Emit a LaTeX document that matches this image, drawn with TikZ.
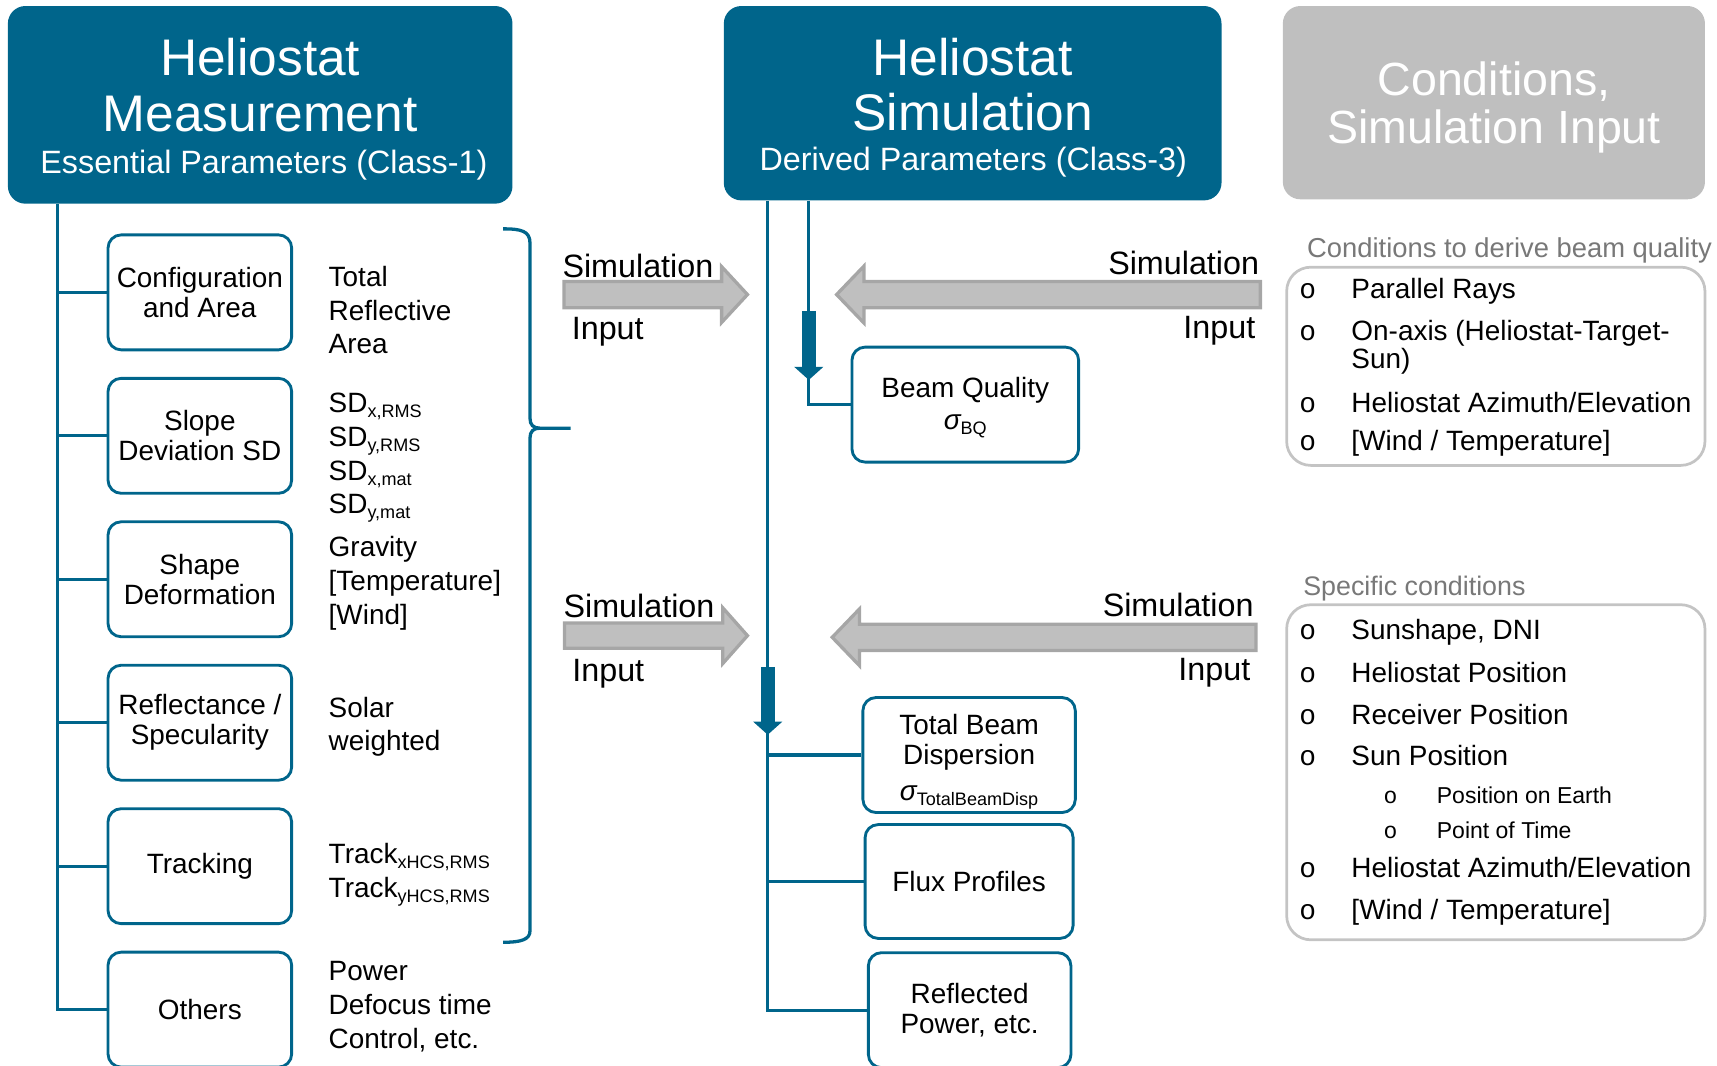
\documentclass[tikz,border=0pt]{standalone}
\usepackage{fontspec}
\setmainfont{Liberation Sans}
\newfontfamily\bulfont{Liberation Mono}
\usetikzlibrary{arrows.meta}
\definecolor{teal1}{RGB}{0,101,139}
\definecolor{agray}{RGB}{191,191,191}
\definecolor{agrayd}{RGB}{166,166,166}
\definecolor{lgray}{RGB}{120,120,120}
\definecolor{bgray}{RGB}{196,196,196}
\newcommand{\mysub}[1]{\raisebox{-4.5pt}{\fontsize{16.5}{16.5}\selectfont #1}}
\newcommand{\bul}[1]{\makebox[#1][l]{\bulfont o}}
\begin{document}
\begin{tikzpicture}[x=1pt,y=-1pt,
 hdr/.style={fill=teal1, draw=none, rounded corners=16pt, inner sep=0pt},
 ghdr/.style={fill=agray, draw=none, rounded corners=16pt, inner sep=0pt},
 httl/.style={anchor=base, inner sep=0pt, text=white, font=\fontsize{47}{51}\selectfont},
 hsub/.style={anchor=base, inner sep=0pt, text=white, font=\fontsize{29.5}{35}\selectfont},
 gttl/.style={anchor=base, inner sep=0pt, text=white, font=\fontsize{42.5}{44}\selectfont},
 pbox/.style={draw=teal1, line width=2.6pt, rounded corners=12pt, fill=white, align=center, inner sep=0pt, minimum width=167.7pt, minimum height=105pt, font=\fontsize{25.5}{27.5}\selectfont},
 ptext/.style={align=center, inner sep=0pt, font=\fontsize{25.5}{27.6}\selectfont},
 side/.style={anchor=north west, align=left, inner sep=0pt, font=\fontsize{25.5}{30.8}\selectfont},
 conn/.style={draw=teal1, line width=3pt},
 tarr/.style={draw=teal1, line width=12.5pt, -{Triangle[width=26pt,length=12pt]}},
 garr/.style={fill=agray, draw=agrayd, line width=3pt},
 albl/.style={inner sep=0pt, font=\fontsize{29.5}{35}\selectfont},
 cbox/.style={draw=bgray, line width=2.5pt, rounded corners=22pt, inner sep=0pt, minimum width=382pt},
 ctitle/.style={anchor=base west, inner sep=0pt, text=lgray, font=\fontsize{24.5}{28}\selectfont},
 citem/.style={anchor=base west, inner sep=0pt, font=\fontsize{25.5}{28}\selectfont},
 csub/.style={anchor=base west, inner sep=0pt, font=\fontsize{21}{24}\selectfont},
]
\useasboundingbox (0,0) rectangle (1568,973);

% headers
\node[hdr, minimum width=460.8pt, minimum height=180.5pt] (hm) at (237.6,95.75) {};
\node[hdr, minimum width=454.5pt, minimum height=177.5pt] (hs) at (888.25,94.25) {};
\node[ghdr, minimum width=385.5pt, minimum height=176.5pt] (hc) at (1364.25,93.75) {};
\node[httl] (hm1) at (237.6,69.3) {Heliostat};
\node[httl] (hm2) at (237.6,120.3) {Measurement};
\node[hsub] (hm3) at (241,158.6) {Essential Parameters (Class-1)};
\node[httl] (hs1) at (888.3,68.5) {Heliostat};
\node[httl] (hs2) at (888.3,118.8) {Simulation};
\node[hsub] (hs3) at (888.8,155.6) {Derived Parameters (Class-3)};
\node[gttl] (hc1) at (1364.3,87.2) {Conditions,};
\node[gttl] (hc2) at (1364.3,131.2) {Simulation Input};

% left boxes
\node[pbox] (b1) at (182.5,267) {Configuration\\and Area};
\node[pbox] (b2) at (182.5,398) {Slope\\Deviation SD};
\node[pbox] (b3) at (182.5,529) {Shape\\Deformation};
\node[pbox] (b4) at (182.5,660) {Reflectance /\\Specularity};
\node[pbox] (b5) at (182.5,791) {Tracking};
\node[pbox] (b6) at (182.5,922) {Others};

\coordinate (lt) at ([xshift=45.2pt]hm.south west);
\draw[conn] (lt) |- (b6.west);
\foreach \b in {b1,b2,b3,b4,b5} \draw[conn] (lt |- \b.west) -- (\b.west);

% left side texts
\node[side] (t1) at (300,242.9) {Total\\Reflective\\Area};
\node[side] (t2) at (300,358.9) {SD\mysub{x,RMS}\\SD\mysub{y,RMS}\\SD\mysub{x,mat}\\SD\mysub{y,mat}};
\node[side] (t3) at (300,489.9) {Gravity\\{[Temperature]}\\{[Wind]}};
\node[side] (t4) at (300,636.3) {Solar\\weighted};
\node[side] (t5) at (300,769.9) {Track\mysub{xHCS,RMS}\\Track\mysub{yHCS,RMS}};
\node[side] (t6) at (300,877.9) {Power\\Defocus time\\Control, etc.};

% brace
\draw[conn] (459.5,209) .. controls (476,209) and (484,211) .. (484,222) -- (484,382)
  .. controls (484,388) and (487,391) .. (493,391) -- (521,391)
  (493,391) .. controls (487,391) and (484,394) .. (484,400) -- (484,850)
  .. controls (484,858) and (476,860.5) .. (459.5,860.5);

% gray arrows
\path[garr] (515,257) -- (659,257) -- (659,243.5) -- (682.6,269) -- (659,294.5) -- (659,281) -- (515,281) -- cycle;
\path[garr] (515.5,569) -- (660,569) -- (660,555) -- (682.6,580.5) -- (660,606) -- (660,592) -- (515.5,592) -- cycle;
\path[garr] (1151,257) -- (789,257) -- (789,243) -- (764,269) -- (789,295) -- (789,281) -- (1151,281) -- cycle;
\path[garr] (1147,570) -- (785,570) -- (785,556) -- (760,582) -- (785,608) -- (785,594) -- (1147,594) -- cycle;

\node[albl, anchor=base west] (s1) at (513.5,253.3) {Simulation};
\node[albl, anchor=base west] (i1) at (522,309.6) {Input};
\node[albl, anchor=base east] (s2) at (1150,250.6) {Simulation};
\node[albl, anchor=base east] (i2) at (1146.5,309.3) {Input};
\node[albl, anchor=base west] (s3) at (514.5,564.3) {Simulation};
\node[albl, anchor=base west] (i3) at (522.5,622.3) {Input};
\node[albl, anchor=base east] (s4) at (1145,563) {Simulation};
\node[albl, anchor=base east] (i4) at (1142,621.3) {Input};

% middle boxes
\node[pbox, minimum width=207pt] (bq) at (881.5,369.5) {};
\node[ptext] (bqt) at (881.5,372.6) {Beam Quality\\[1.6pt]{\itshape σ}\mysub{BQ}};
\node[pbox, minimum width=194pt] (tb) at (885,689.5) {};
\node[ptext] (tbt) at (885,695.4) {Total Beam\\Dispersion\\[5.3pt]{\itshape σ}\mysub{TotalBeamDisp}};
\node[pbox, minimum width=190pt, minimum height=104pt] (fp) at (885,805) {Flux Profiles};
\node[pbox, minimum width=185pt] (rp) at (885.5,922.5) {Reflected\\Power, etc.};

\coordinate (la) at ([xshift=40.3pt]hs.south west);
\coordinate (lb) at ([xshift=77.8pt]hs.south west);
\draw[conn] (la) |- (rp.west);
\draw[conn] (la |- tb.west) -- (tb.west);
\draw[conn] (la |- fp.west) -- (fp.west);
\draw[conn, line width=2.6pt] (lb) |- (bq.west);
\draw[tarr] (la |- 0,609) -- (la |- 0,671);
\draw[tarr] (lb |- 0,284) -- (lb |- 0,347);

% right panels
\node[cbox, minimum height=181pt] (c1) at (1366,334.5) {};
\node[cbox, minimum height=306pt] (c2) at (1366,705.25) {};
\node[ctitle, font=\fontsize{25}{28}\selectfont] (c1t) at (1193.5,235.4) {Conditions to derive beam quality};
\node[ctitle] (c2t) at (1190,543.8) {Specific conditions};

\node[citem] (c1a) at (1186.5,272.8) {\bul{47.5pt}Parallel Rays};
\node[citem] (c1b) at (1186.5,310.8) {\bul{47.5pt}On-axis (Heliostat-Target-};
\node[citem] (c1c) at (1234,336.3) {Sun)};
\node[citem] (c1d) at (1186.5,376.3) {\bul{47.5pt}Heliostat Azimuth/Elevation};
\node[citem] (c1e) at (1186.5,411.3) {\bul{47.5pt}[Wind / Temperature]};

\node[citem] (c2a) at (1186.5,584.3) {\bul{47.5pt}Sunshape, DNI};
\node[citem] (c2b) at (1186.5,623.3) {\bul{47.5pt}Heliostat Position};
\node[citem] (c2c) at (1186.5,661.3) {\bul{47.5pt}Receiver Position};
\node[citem] (c2d) at (1186.5,699.3) {\bul{47.5pt}Sun Position};
\node[csub] (c2e) at (1263.4,733.5) {\bul{48.6pt}Position on Earth};
\node[csub] (c2f) at (1263.4,765.5) {\bul{48.6pt}Point of Time};
\node[citem] (c2g) at (1186.5,801.3) {\bul{47.5pt}Heliostat Azimuth/Elevation};
\node[citem] (c2h) at (1186.5,839.3) {\bul{47.5pt}[Wind / Temperature]};
\end{tikzpicture}
\end{document}
